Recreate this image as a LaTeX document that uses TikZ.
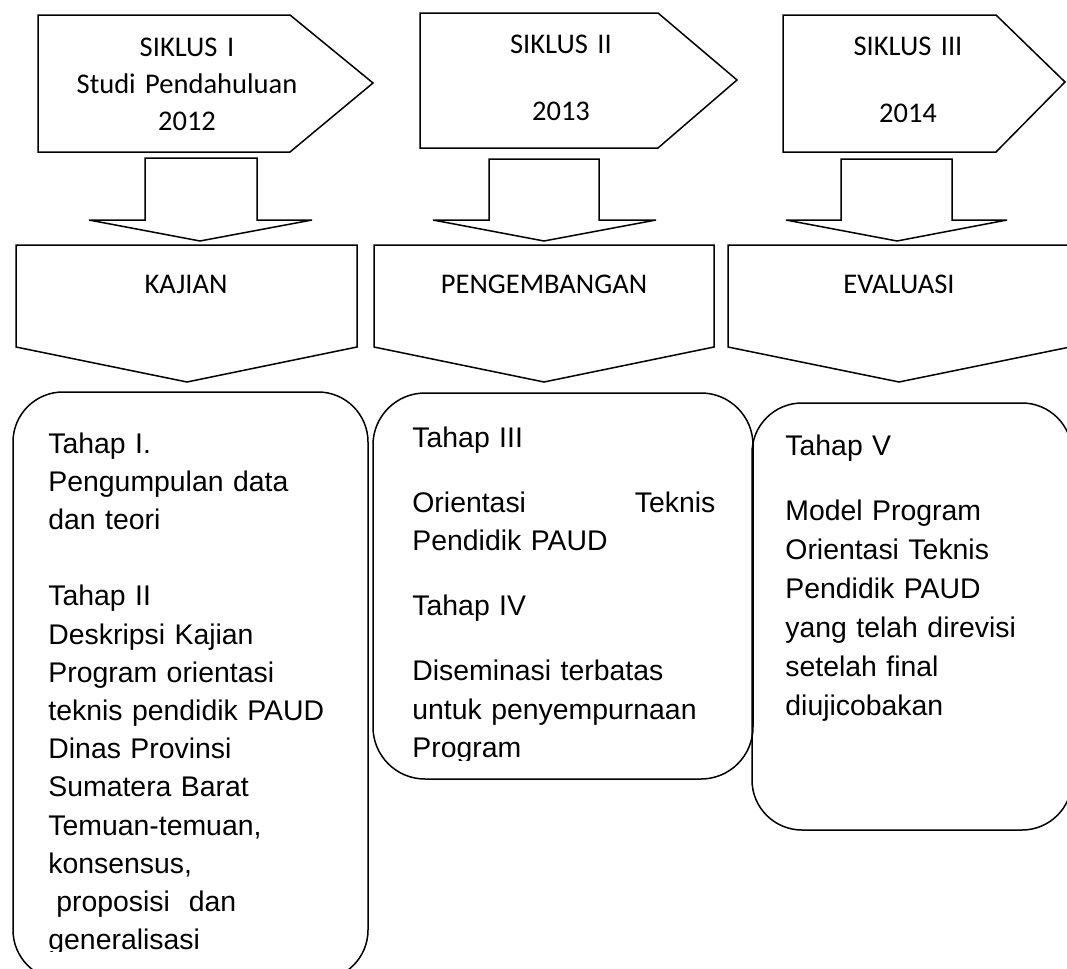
\documentclass[tikz,border=0pt]{standalone}
\usepackage{fontspec}
\setmainfont{Liberation Sans}
\newfontfamily\calibri{Carlito}

\begin{document}
\begin{tikzpicture}[x=0.5pt,y=-0.5pt,
    blk/.style={draw=black,line width=0.75pt,line join=miter},
    siklus/.style={font=\calibri\fontsize{14.25}{18.5}\selectfont,align=center,text width=130pt,inner sep=0pt,anchor=base},
    fase/.style={font=\calibri\fontsize{14.25}{17}\selectfont,inner sep=0pt,anchor=base},
    tahap/.style={font=\fontsize{14.2}{19.1}\selectfont,align=left,inner sep=0pt,anchor=base west}]
      \useasboundingbox (0,0) rectangle (1067,969);
      \fill[white] (0,0) rectangle (1067,969);
      % siklus (pentagon arrows)
      \draw[blk] (38,15) -- (290,15) -- (373,83) -- (290,152) -- (38,152) -- cycle;
      \draw[blk] (420,13) -- (658,13) -- (737,80) -- (658,148) -- (420,148) -- cycle;
      \draw[blk] (783,15) -- (996,15) -- (1065,82) -- (996,152) -- (783,152) -- cycle;
      \node[siklus] (siklus1) at (187,56) {SIKLUS I\\Studi Pendahuluan\\2012};
      \node[siklus] (siklus2) at (561,54) {SIKLUS II\\[15pt]2013};
      \node[siklus] (siklus3) at (908,55) {SIKLUS III\\[15pt]2014};
      % block arrows down
      \draw[blk] (145,158) -- (257,158) -- (257,220) -- (312,220) -- (200,241) -- (89,220) -- (145,220) -- cycle;
      \draw[blk] (489,159) -- (599,159) -- (599,220) -- (656,220) -- (544,241) -- (433,220) -- (489,220) -- cycle;
      \draw[blk] (841,159) -- (952,159) -- (952,220) -- (1007,220) -- (897,241) -- (786,220) -- (841,220) -- cycle;
      % fase (chevrons)
      \draw[blk] (16,245) -- (357,245) -- (357,347) -- (187,382) -- (16,347) -- cycle;
      \draw[blk] (374,245) -- (714,245) -- (714,347) -- (544,382) -- (374,347) -- cycle;
      \draw[blk] (728,245) -- (1070,245) -- (1070,347) -- (899,382) -- (728,347) -- cycle;
      \node[fase] (kajian) at (186,293) {KAJIAN};
      \node[fase] (pengembangan) at (544,293) {PENGEMBANGAN};
      \node[fase] (evaluasi) at (899,293) {EVALUASI};
      % tahap boxes
      \draw[blk,rounded corners=25pt] (13,392) rectangle (368,980);
      \draw[blk,rounded corners=26pt] (373,393) rectangle (753,779);
      \draw[blk,rounded corners=25pt] (752,403) rectangle (1072,830);
      \begin{scope}
        \clip (13,392) rectangle (368,951);
        \node[tahap,text width=150pt] (tahap1) at (48,453) {Tahap I.\\Pengumpulan data\\dan teori\\[19.1pt]Tahap II\\Deskripsi Kajian\\Program orientasi\\teknis pendidik PAUD\\Dinas Provinsi\\Sumatera Barat\\Temuan-temuan,\\konsensus,\\\hspace*{0.28em}proposisi\ \ dan\\generalisasi};
      \end{scope}
      \begin{scope}
        \clip (373,393) rectangle (753,760);
        \node[tahap,text width=151.5pt] (tahap3) at (412,447) {Tahap III\\[13.5pt]Orientasi\hfill Teknis\\Pendidik PAUD\\[13.5pt]Tahap IV\\[13.5pt]Diseminasi terbatas\\untuk penyempurnaan\\Program};
      \end{scope}
      \node[tahap,text width=140pt,font=\fontsize{14.2}{19.5}\selectfont] (tahap5) at (785,455) {Tahap V\\[13pt]Model Program\\Orientasi Teknis\\Pendidik PAUD\\yang telah direvisi\\setelah final\\diujicobakan};
    \end{tikzpicture}
\end{document}
